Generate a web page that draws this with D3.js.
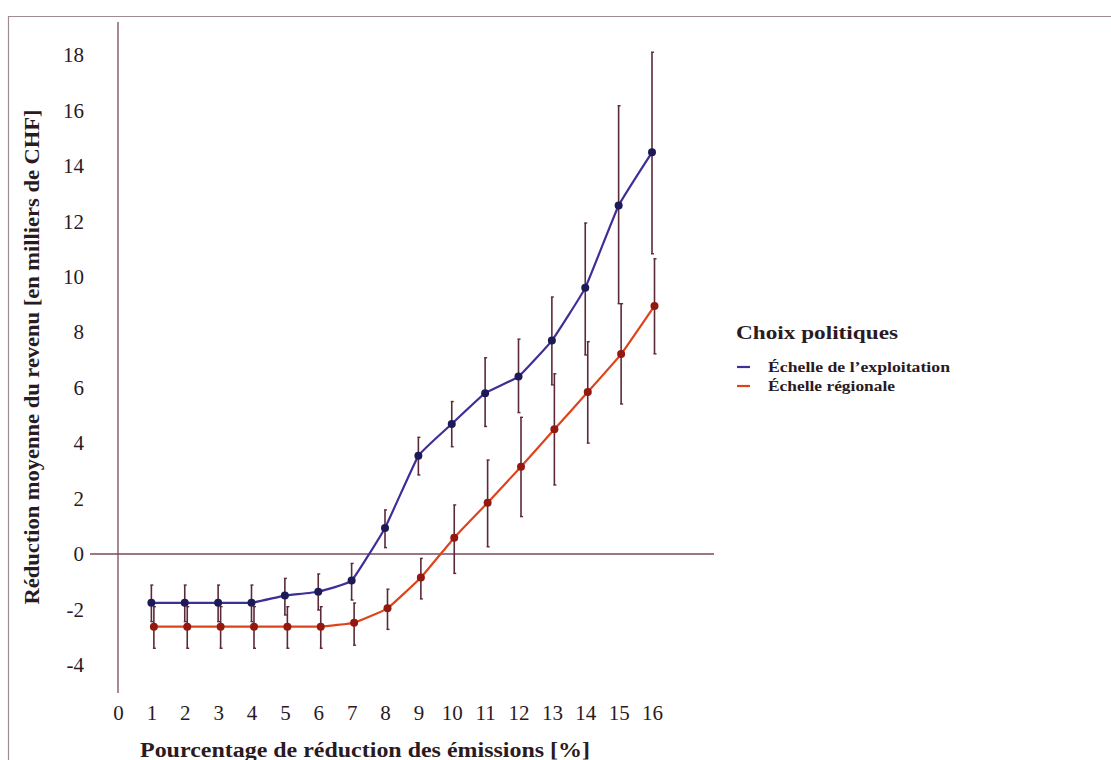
<!DOCTYPE html>
<html>
<head>
<meta charset="utf-8">
<script src="https://cdn.jsdelivr.net/npm/d3@7"></script>
<style>
  body { margin: 0; background: #fff; }
  text { font-family: "Liberation Serif", "DejaVu Serif", serif; fill: #2a1a22; }
</style>
</head>
<body>
<div id="chart"></div>
<script>
// data
var reductions = [1, 2, 3, 4, 5, 6, 7, 8, 9, 10, 11, 12, 13, 14, 15, 16];
var xTicks = [0, 1, 2, 3, 4, 5, 6, 7, 8, 9, 10, 11, 12, 13, 14, 15, 16];
var yTicks = [-4, -2, 0, 2, 4, 6, 8, 10, 12, 14, 16, 18];

var farmMean = [-1.76, -1.76, -1.76, -1.76, -1.5, -1.36, -0.96, 0.94, 3.54, 4.69, 5.8, 6.4, 7.7, 9.6, 12.57, 14.49];
var farmLow  = [-2.44, -2.44, -2.44, -2.44, -2.2, -2.02, -1.66, 0.23, 2.85, 3.87, 4.6, 5.1, 6.1, 7.18, 9.03, 10.83];
var farmHigh = [-1.12, -1.12, -1.12, -1.12, -0.88, -0.72, -0.34, 1.59, 4.21, 5.5, 7.08, 7.75, 9.27, 11.94, 16.17, 18.1];

var regMean = [-2.62, -2.62, -2.62, -2.62, -2.62, -2.62, -2.48, -1.96, -0.85, 0.59, 1.85, 3.15, 4.5, 5.84, 7.21, 8.95];
var regLow  = [-3.4, -3.4, -3.4, -3.4, -3.4, -3.4, -3.29, -2.72, -1.62, -0.7, 0.26, 1.35, 2.49, 4.0, 5.41, 7.22];
var regHigh = [-1.9, -1.9, -1.9, -1.9, -1.9, -1.9, -1.77, -1.27, -0.16, 1.77, 3.39, 4.93, 6.5, 7.66, 9.03, 10.65];

var seriesNames = ["Échelle de l\u2019exploitation", "Échelle régionale"];

var w = 1111, h = 760;
var serif = '"Liberation Serif", "DejaVu Serif", serif';

var svg = d3.select('#chart').append('svg')
            .attr('width', w)
            .attr('height', h);

// scanned page frame
svg.append('path')
   .attr('d', 'M8.5,' + (h + 5) + 'V16.5H' + (w + 5))
   .attr('fill', 'none')
   .attr('stroke', '#a08c90')
   .attr('stroke-width', 1.2);

var x = d3.scaleLinear().domain([0, 16]).range([118, 652]);
var y = d3.scaleLinear().domain([0, 18]).range([554, 55]);

var plain = function(d){ return String(d); };

//axes (labels only)
var yAxis = svg.append('g')
               .attr('transform', 'translate(' + x(0) + ',0)')
               .call(d3.axisLeft(y).tickValues(yTicks).tickFormat(plain).tickSize(0).tickPadding(34));
yAxis.select('.domain').remove();
yAxis.attr('font-family', serif);
yAxis.selectAll('text').style('font-size', '21px').attr('fill', '#2a1a22');

var xAxis = svg.append('g')
               .attr('transform', 'translate(0,693)')
               .call(d3.axisBottom(x).tickValues(xTicks).tickFormat(plain).tickSize(0).tickPadding(12));
xAxis.select('.domain').remove();
xAxis.attr('font-family', serif);
xAxis.selectAll('text').style('font-size', '21px').attr('fill', '#2a1a22');

// axis lines
svg.append('line')
   .attr('x1', x(0)).attr('x2', x(0))
   .attr('y1', 22).attr('y2', 693)
   .attr('stroke', '#7a4a5a').attr('stroke-width', 1.3);

svg.append('line')
   .attr('x1', 90).attr('x2', 714)
   .attr('y1', y(0)).attr('y2', y(0))
   .attr('stroke', '#7a4a5a').attr('stroke-width', 1.3);

// axis titles
svg.append('text')
   .attr('transform', 'translate(39,357) rotate(-90)')
   .attr('text-anchor', 'middle')
   .attr('textLength', 495)
   .attr('lengthAdjust', 'spacingAndGlyphs')
   .style('font-size', '20px')
   .style('font-weight', 'bold')
   .text('Réduction moyenne du revenu [en milliers de CHF]');

svg.append('text')
   .attr('x', 365)
   .attr('y', 757)
   .attr('text-anchor', 'middle')
   .attr('textLength', 450)
   .attr('lengthAdjust', 'spacingAndGlyphs')
   .style('font-size', '20px')
   .style('font-weight', 'bold')
   .text('Pourcentage de réduction des émissions [%]');

// series
var series = [
  {name: seriesNames[0], mean: farmMean, low: farmLow, high: farmHigh, line: '#3e2f98', dot: '#1c1b58', dx: 0},
  {name: seriesNames[1], mean: regMean, low: regLow, high: regHigh, line: '#de441b', dot: '#921810', dx: 2.5}
];

var line = d3.line()
             .x(function(d){ return d.px; })
             .y(function(d){ return y(d.v); })
             .curve(d3.curveCardinal.tension(0.7));

series.forEach(function(s){
  var pts = reductions.map(function(r, i){
    return {px: x(r) + s.dx, v: s.mean[i], lo: s.low[i], hi: s.high[i]};
  });

  var g = svg.append('g');

  // error bars
  var bars = g.selectAll('g.err').data(pts).enter().append('g').attr('class', 'err');
  bars.append('line')
      .attr('x1', function(d){ return d.px; })
      .attr('x2', function(d){ return d.px; })
      .attr('y1', function(d){ return y(d.hi); })
      .attr('y2', function(d){ return y(d.lo); })
      .attr('stroke', '#5b2a38').attr('stroke-width', 1.6);
  bars.append('line')
      .attr('x1', function(d){ return d.px - 1; })
      .attr('x2', function(d){ return d.px + 2; })
      .attr('y1', function(d){ return y(d.hi); })
      .attr('y2', function(d){ return y(d.hi); })
      .attr('stroke', '#5b2a38').attr('stroke-width', 1.4);
  bars.append('line')
      .attr('x1', function(d){ return d.px - 1; })
      .attr('x2', function(d){ return d.px + 2; })
      .attr('y1', function(d){ return y(d.lo); })
      .attr('y2', function(d){ return y(d.lo); })
      .attr('stroke', '#5b2a38').attr('stroke-width', 1.4);

  g.append('path')
   .datum(pts)
   .attr('d', line)
   .attr('fill', 'none')
   .attr('stroke', s.line)
   .attr('stroke-width', 2.2);

  g.selectAll('circle').data(pts).enter()
   .append('circle')
   .attr('cx', function(d){ return d.px; })
   .attr('cy', function(d){ return y(d.v); })
   .attr('r', 4)
   .attr('fill', s.dot);
});

//legend
var legend = svg.append('g').attr('transform', 'translate(736,0)');
legend.append('text')
      .attr('x', 0).attr('y', 339)
      .attr('textLength', 162)
      .attr('lengthAdjust', 'spacingAndGlyphs')
      .style('font-size', '19px')
      .style('font-weight', 'bold')
      .text('Choix politiques');

var items = legend.selectAll('g.item').data(series).enter()
                  .append('g')
                  .attr('class', 'item')
                  .attr('transform', function(d, i){ return 'translate(0,' + (367 + i * 19) + ')'; });
items.append('line')
     .attr('x1', 1).attr('x2', 14)
     .attr('stroke', function(d){ return d.line; })
     .attr('stroke-width', 2.2);
items.append('text')
     .attr('x', 32).attr('dy', '0.32em')
     .attr('textLength', function(d, i){ return i === 0 ? 182 : 127; })
     .attr('lengthAdjust', 'spacingAndGlyphs')
     .style('font-size', '15px')
     .style('font-weight', 'bold')
     .text(function(d){ return d.name; });
</script>
</body>
</html>
